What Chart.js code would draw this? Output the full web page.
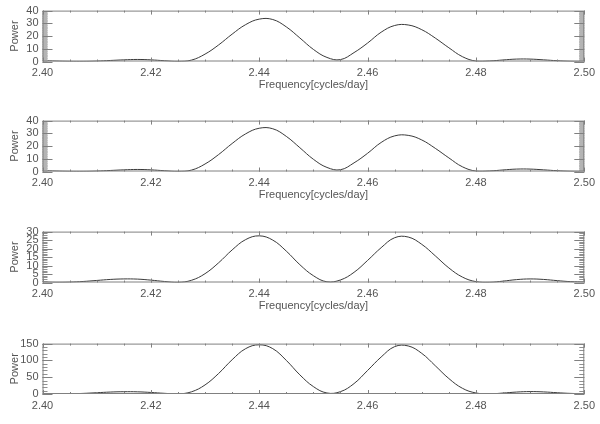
<!DOCTYPE html>
<html>
<head>
<meta charset="utf-8">
<script src="https://cdn.jsdelivr.net/npm/chart.js@4.4.1/dist/chart.umd.min.js"></script>
<style>
body { margin: 0; background: #fff; overflow: hidden; width: 600px; height: 424px; }
canvas { position: absolute; left: 0; }
</style>
</head>
<body>
<canvas id="p1" width="600" height="110" style="top:0px"></canvas>
<canvas id="p2" width="600" height="110" style="top:110px"></canvas>
<canvas id="p3" width="600" height="110" style="top:221px"></canvas>
<canvas id="p4" width="600" height="91" style="top:333px"></canvas>
<script>
// frequencies (cycles/day), step 0.0025
var freq = [2.4000, 2.4025, 2.4050, 2.4075, 2.4100, 2.4125, 2.4150, 2.4175, 2.4200, 2.4225,
            2.4250, 2.4275, 2.4300, 2.4325, 2.4350, 2.4375, 2.4400, 2.4425, 2.4450, 2.4475,
            2.4500, 2.4525, 2.4550, 2.4575, 2.4600, 2.4625, 2.4650, 2.4675, 2.4700, 2.4725,
            2.4750, 2.4775, 2.4800, 2.4825, 2.4850, 2.4875, 2.4900, 2.4925, 2.4950, 2.4975, 2.5000];

// power, panel by panel
var power1 = [0.7, 0.35, 0.1, 0.05, 0.3, 0.8, 1.3, 1.6, 1.3, 0.6,
              0.05, 1.1, 5.8, 13.0, 21.5, 29.0, 33.3, 33.0, 27.2, 18.5,
              9.5, 3.2, 1.5, 7.0, 14.5, 23.0, 28.3, 28.7, 25.0, 18.4,
              10.8, 3.8, 0.3, 0.4, 1.2, 1.9, 1.9, 1.3, 0.6, 0.15, 0.05];
var power2 = [0.7, 0.35, 0.1, 0.05, 0.3, 0.8, 1.3, 1.6, 1.3, 0.6,
              0.05, 1.1, 5.9, 13.3, 22.0, 29.6, 34.0, 33.6, 27.6, 18.7,
              9.6, 3.2, 1.4, 6.8, 14.3, 22.8, 28.0, 28.4, 24.8, 18.2,
              10.7, 3.7, 0.3, 0.4, 1.2, 1.9, 1.9, 1.3, 0.6, 0.15, 0.05];
var power3 = [0.3, 0.1, 0.2, 0.6, 1.2, 1.8, 2.1, 2.0, 1.4, 0.6,
              0.05, 1.3, 5.2, 11.6, 19.2, 25.3, 27.5, 25.0, 18.5, 10.5,
              4.0, 0.4, 1.5, 6.0, 13.0, 20.5, 26.4, 26.8, 22.5, 15.7,
              8.6, 3.2, 0.5, 0.1, 0.8, 1.7, 2.1, 1.8, 1.1, 0.5, 0.3];
var power4 = [1.5, 0.6, 0.5, 1.8, 3.8, 5.8, 6.8, 6.5, 4.6, 2.0,
              0.3, 6.5, 27, 61, 102, 135, 146.5, 135, 100, 57,
              22, 3, 7, 31, 70, 110, 141, 143, 121, 84,
              46, 17, 3, 0.5, 2.8, 5.8, 7.2, 6.2, 3.8, 1.8, 1.0];

// axes
var xTicks = [2.40, 2.42, 2.44, 2.46, 2.48, 2.50];
var xMinor = 0.005;
var yTicks1 = [0, 10, 20, 30, 40];
var yTicks3 = [0, 5, 10, 15, 20, 25, 30];
var yTicks4 = [0, 50, 100, 150];
var xTitle = 'Frequency[cycles/day]';
var yTitle = 'Power';

// ticks inward on all four sides, like IDL
var idlFrame = {
	id: 'idlFrame',
	afterDraw: function(chart) {
		var o = chart.options.plugins.idlFrame;
		var ctx = chart.ctx, a = chart.chartArea;
		var xs = chart.scales.x, ys = chart.scales.y;
		var v, p;
		ctx.save();
		ctx.lineWidth = 1;
		// minor y ticks
		ctx.strokeStyle = o.minorColor;
		ctx.beginPath();
		for (v = ys.min; v <= ys.max + 1e-9; v += o.yMinor) {
			p = Math.round(ys.getPixelForValue(v)) + 0.5;
			ctx.moveTo(a.left, p); ctx.lineTo(a.left + 5, p);
			ctx.moveTo(a.right, p); ctx.lineTo(a.right - 5, p);
		}
		ctx.stroke();
		ctx.strokeStyle = '#808080';
		ctx.beginPath();
		// major y ticks
		ys.ticks.forEach(function(t) {
			p = Math.round(ys.getPixelForValue(t.value)) + 0.5;
			ctx.moveTo(a.left, p); ctx.lineTo(a.left + 10, p);
			ctx.moveTo(a.right, p); ctx.lineTo(a.right - 10, p);
		});
		// x ticks, minor and major
		for (v = xs.min; v <= xs.max + 1e-9; v += xMinor) {
			p = Math.round(xs.getPixelForValue(v)) + 0.5;
			ctx.moveTo(p, a.bottom); ctx.lineTo(p, a.bottom - 2);
			ctx.moveTo(p, a.top); ctx.lineTo(p, a.top + 2);
		}
		xs.ticks.forEach(function(t) {
			p = Math.round(xs.getPixelForValue(t.value)) + 0.5;
			ctx.moveTo(p, a.bottom); ctx.lineTo(p, a.bottom - 4);
			ctx.moveTo(p, a.top); ctx.lineTo(p, a.top + 4);
		});
		ctx.stroke();
		// frame
		ctx.strokeRect(a.left + 0.5, a.top + 0.5, a.right - a.left - 1, a.bottom - a.top - 1);
		ctx.restore();
	}
};

function makePanel(id, power, yTicks, yMinor, showTitle) {
	var pts = freq.map(function(f, i) { return {x: f, y: power[i]}; });
	return new Chart(document.getElementById(id), {
		type: 'line',
		data: {
			datasets: [{
				data: pts,
				borderColor: '#3a3a3a',
				borderWidth: 1,
				pointRadius: 0,
				tension: 0.4,
				fill: false
			}]
		},
		options: {
			responsive: false,
			animation: false,
			events: [],
			layout: {padding: {left: 0, right: 13, top: 6, bottom: 0}},
			plugins: {
				legend: {display: false},
				tooltip: {enabled: false},
				idlFrame: {yMinor: yMinor, minorColor: yMinor < 1 ? '#b4b4b4' : '#909090'}
			},
			scales: {
				x: {
					type: 'linear',
					min: xTicks[0],
					max: xTicks[xTicks.length - 1],
					afterBuildTicks: function(s) { s.ticks = xTicks.map(function(v) { return {value: v}; }); },
					afterFit: function(s) { s.height = showTitle ? 48.5 : 30; },
					grid: {display: false, drawTicks: false},
					border: {display: false},
					ticks: {
						padding: 5,
						maxRotation: 0,
						autoSkip: false,
						color: '#555',
						font: {family: 'Liberation Sans', size: 11},
						callback: function(v) { return v.toFixed(2); }
					},
					title: {
						display: showTitle,
						text: xTitle,
						color: '#555',
						font: {family: 'Liberation Sans', size: 11},
						padding: {top: 0, bottom: 18}
					}
				},
				y: {
					min: yTicks[0],
					max: yTicks[yTicks.length - 1],
					afterBuildTicks: function(s) { s.ticks = yTicks.map(function(v) { return {value: v}; }); },
					afterFit: function(s) { s.width = 42.5; },
					grid: {display: false, drawTicks: false},
					border: {display: false},
					ticks: {
						padding: 4,
						autoSkip: false,
						color: '#555',
						font: {family: 'Liberation Sans', size: 11}
					},
					title: {
						display: true,
						text: yTitle,
						color: '#555',
						font: {family: 'Liberation Sans', size: 11},
						padding: {top: 8, bottom: 0}
					}
				}
			}
		},
		plugins: [idlFrame]
	});
}

makePanel('p1', power1, yTicks1, 0.5, true);
makePanel('p2', power2, yTicks1, 0.5, true);
makePanel('p3', power3, yTicks3, 1, true);
makePanel('p4', power4, yTicks4, 10, false);
</script>
</body>
</html>
